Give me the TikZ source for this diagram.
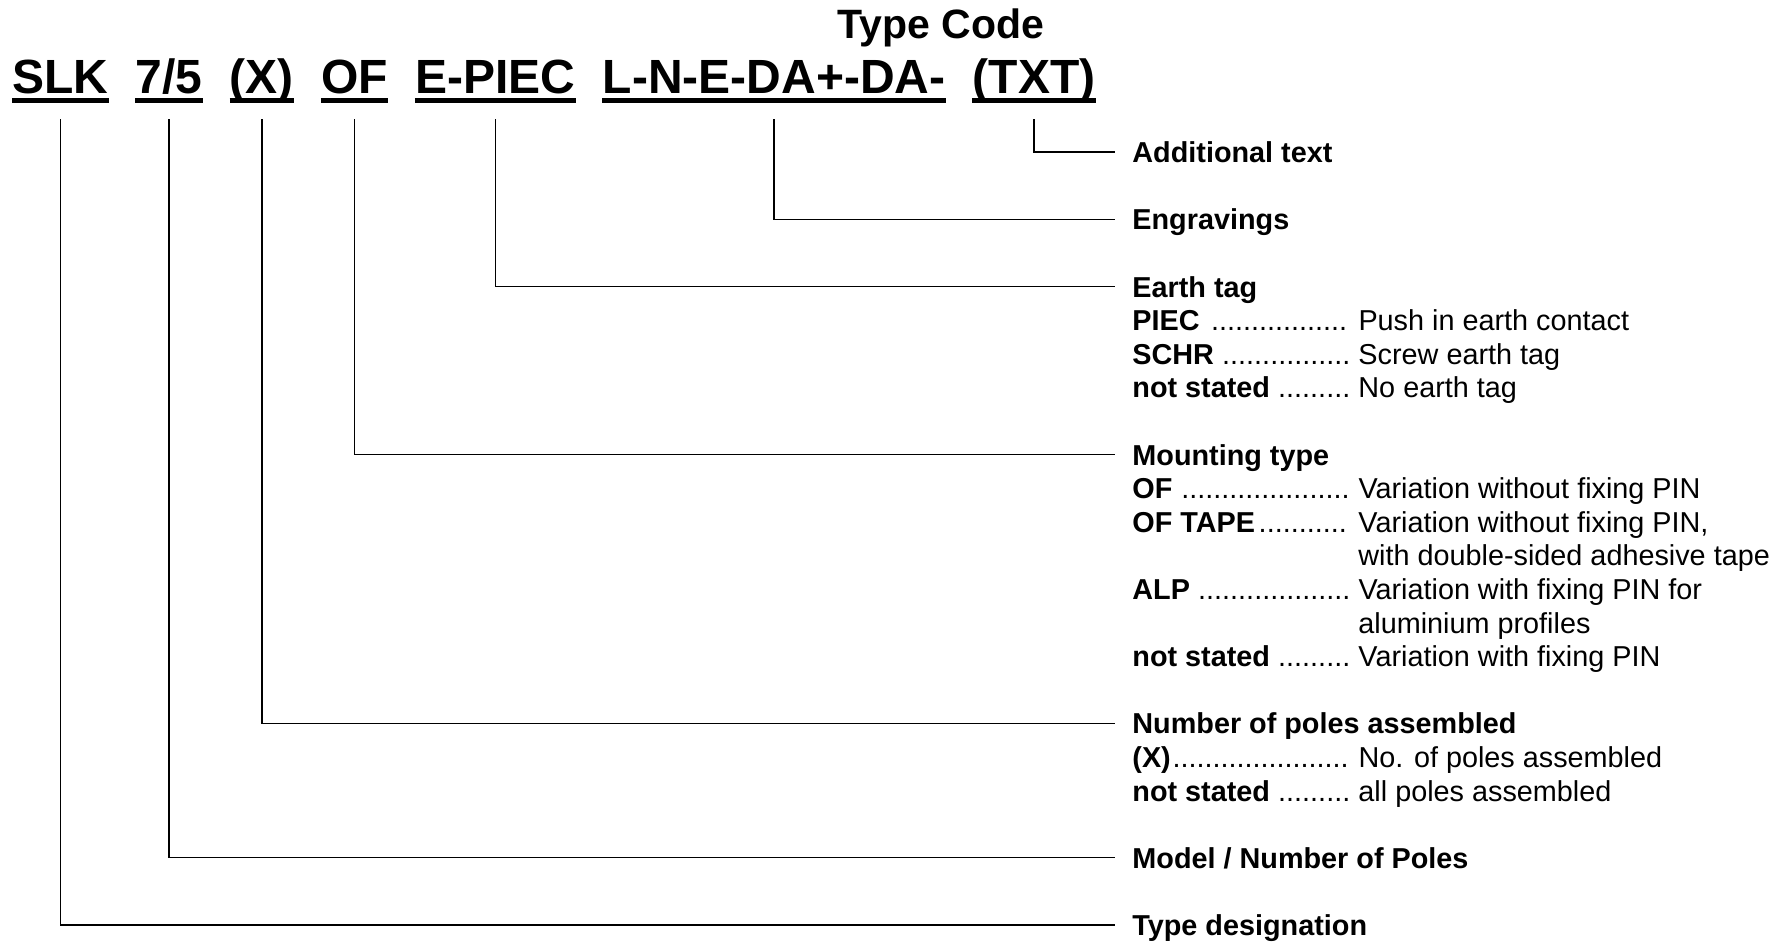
\documentclass[tikz,border=0pt]{standalone}
\usepackage{fontspec}
\setmainfont{Liberation Sans}
\usetikzlibrary{positioning}

\newcommand{\DotLead}{\cleaders\hbox{.}\hfill}
\newcommand{\KeyRow}[2]{\makebox[109pt][l]{\textbf{#1}\DotLead}\ #2}

\tikzset{
    title/.style={font=\fontsize{20.5pt}{24pt}\selectfont\bfseries, inner sep=0pt},
    code/.style={font=\fontsize{24pt}{28pt}\selectfont\bfseries, inner sep=0pt},
    uline/.style={line width=2.5pt},
    conn/.style={line width=0.7pt},
    head/.style={font=\fontsize{14.4pt}{16.8pt}\selectfont\bfseries, inner xsep=8.5pt, inner ysep=0pt,
        text height=11.6pt, text depth=1pt, anchor=base west},
    entry/.style={font=\fontsize{14.4pt}{16.8pt}\selectfont, inner sep=0pt, anchor=base west},
}

\begin{document}
\begin{tikzpicture}[x=0.5pt, y=-0.5pt, node distance=13.3pt]
    \useasboundingbox (0,0) rectangle (1791,944);

    \node[title, anchor=base] (tCode) at (941,38) {Type Code};

    \node[code, anchor=base west] (cSLK) at (12,93) {SLK};
    \node[code, base right=of cSLK] (cPoles) {7/5};
    \node[code, base right=of cPoles] (cX) {(X)};
    \node[code, base right=of cX] (cOF) {OF};
    \node[code, base right=of cOF] (cEarth) {E-PIEC};
    \node[code, base right=of cEarth] (cEngr) {L-N-E-DA+-DA-};
    \node[code, base right=of cEngr] (cTxt) {(TXT)};
    \foreach \c in {cSLK,cPoles,cX,cOF,cEarth,cEngr,cTxt}
        \draw[uline] ([yshift=-3.5pt]\c.base west) -- ([yshift=-3.5pt]\c.base east);

    \node[head] (hTxt) at (1115,162.6) {Additional text};
    \node[head] (hEngr) at (1115,229.8) {Engravings};
    \node[head] (hEarth) at (1115,297) {Earth tag};
    \node[head] (hMount) at (1115,465) {Mounting type};
    \node[head] (hX) at (1115,733.8) {Number of poles assembled};
    \node[head] (hModel) at (1115,868.2) {Model / Number of Poles};
    \node[head] (hType) at (1115,935.4) {Type designation};

    \node[entry] (eEarthA) at (1132,330.6) {\KeyRow{PIEC }{Push in earth contact}};
    \node[entry] (eEarthB) at (1132,364.2) {\KeyRow{SCHR }{Screw earth tag}};
    \node[entry] (eEarthC) at (1132,397.8) {\KeyRow{not stated }{No earth tag}};

    \node[entry] (eMountA) at (1132,498.6) {\KeyRow{OF }{Variation without fixing PIN}};
    \node[entry] (eMountB) at (1132,532.2) {\KeyRow{OF TAPE}{Variation without fixing PIN,}};
    \node[entry] (eMountBb) at (1358,565.8) {with double-sided adhesive tape};
    \node[entry] (eMountC) at (1132,599.4) {\KeyRow{ALP }{Variation with fixing PIN for}};
    \node[entry] (eMountCb) at (1358,633) {aluminium profiles};
    \node[entry] (eMountD) at (1132,666.6) {\KeyRow{not stated }{Variation with fixing PIN}};

    \node[entry] (eXA) at (1132,767.4) {\KeyRow{(X)}{No. of poles assembled}};
    \node[entry] (eXB) at (1132,801) {\KeyRow{not stated }{all poles assembled}};

    \draw[conn] ([yshift=-13pt]cTxt.base) |- (hTxt.west);
    \draw[conn] ([yshift=-13pt]cEngr.base) |- (hEngr.west);
    \draw[conn] ([yshift=-13pt]cEarth.base) |- (hEarth.west);
    \draw[conn] ([yshift=-13pt]cOF.base) |- (hMount.west);
    \draw[conn] ([yshift=-13pt]cX.base) |- (hX.west);
    \draw[conn] ([yshift=-13pt]cPoles.base) |- (hModel.west);
    \draw[conn] ([yshift=-13pt]cSLK.base) |- (hType.west);
\end{tikzpicture}
\end{document}
